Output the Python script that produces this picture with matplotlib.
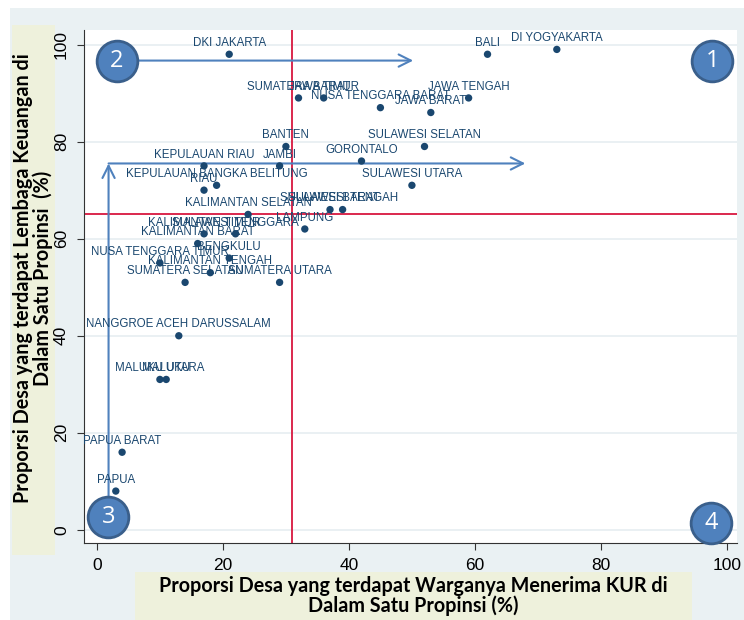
import numpy as np
import matplotlib.pyplot as plt
from matplotlib.patches import Rectangle

# province data
provinces = ["DKI JAKARTA", "BALI", "DI YOGYAKARTA", "SUMATERA BARAT", "JAWA TIMUR",
             "NUSA TENGGARA BARAT", "JAWA TENGAH", "JAWA BARAT", "BANTEN", "SULAWESI SELATAN",
             "KEPULAUAN RIAU", "JAMBI", "GORONTALO", "KEPULAUAN BANGKA BELITUNG", "RIAU",
             "SULAWESI UTARA", "KALIMANTAN SELATAN", "SULAWESI BARAT", "SULAWESI TENGAH",
             "LAMPUNG", "KALIMANTAN TIMUR", "SULAWESI TENGGARA", "KALIMANTAN BARAT",
             "BENGKULU", "NUSA TENGGARA TIMUR", "KALIMANTAN TENGAH", "SUMATERA SELATAN",
             "SUMATERA UTARA", "NANGGROE ACEH DARUSSALAM", "MALUKU UTARA", "MALUKU",
             "PAPUA BARAT", "PAPUA"]
kur = [21, 62, 73, 32, 36, 45, 59, 53, 30, 52, 17, 29, 42, 19, 17, 50, 24, 37, 39,
       33, 17, 22, 16, 21, 10, 18, 14, 29, 13, 10, 11, 4, 3]
lembaga = [98, 98, 99, 89, 89, 87, 89, 86, 79, 79, 75, 75, 76, 71, 70, 71, 65, 66, 66,
           62, 61, 61, 59, 56, 55, 53, 51, 51, 40, 31, 31, 16, 8]

x_mean = 31
y_mean = 65
ticks = [0, 20, 40, 60, 80, 100]

quad_nums = ["1", "2", "3", "4"]
quad_x = [97.7, 3.2, 1.8, 97.5]
quad_y = [96.7, 96.7, 2.7, 1.4]

xlabel = "Proporsi Desa yang terdapat Warganya Menerima KUR di\nDalam Satu Propinsi (%)"
ylabel = "Proporsi Desa yang terdapat Lembaga Keuangan di\nDalam Satu Propinsi  (%)"

navy = "#1a476f"
blue = "#4f81bd"
red = "#d8173f"

fig = plt.figure(figsize=(7.44, 6.2), dpi=100)
fig.patch.set_facecolor("white")
fig.patches.append(Rectangle((10 / 744, 0), 734 / 744, 1 - 8 / 620, transform=fig.transFigure,
                             facecolor="#eaf1f3", edgecolor="none", zorder=-10))
# beige label boxes
fig.patches.append(Rectangle((12 / 744, 1 - 555 / 620), 43 / 744, 530 / 620, transform=fig.transFigure,
                             facecolor="#eef1dc", edgecolor="none", zorder=-5))
fig.patches.append(Rectangle((135 / 744, 0), 557 / 744, 48 / 620, transform=fig.transFigure,
                             facecolor="#eef1dc", edgecolor="none", zorder=-5))

ax = fig.add_axes([84.3 / 744, 1 - 543 / 620, (737 - 84.3) / 744, (543 - 30) / 620])
ax.set_facecolor("white")
ax.set_xlim(-2, 101.6)
ax.set_ylim(-2.7, 103)

for t in ticks:
    ax.axhline(t, color="#e6eef1", lw=1.2, zorder=0)

ax.axvline(x_mean, color=red, lw=1.3, zorder=1)
ax.axhline(y_mean, color=red, lw=1.3, zorder=1)

ax.scatter(kur, lembaga, s=28, color=navy, zorder=4, edgecolor="none")
for name, xv, yv in zip(provinces, kur, lembaga):
    ax.annotate(name, (xv, yv), xytext=(0, 6), textcoords="offset points", ha="center",
                va="baseline", fontsize=8.3, color=navy, family="Liberation Sans", zorder=5)

# arrows
arr = dict(arrowstyle="->", color=blue, lw=1.5, mutation_scale=22, shrinkA=0, shrinkB=0)
ax.annotate("", xy=(50.2, 96.7), xytext=(5.5, 96.7), arrowprops=arr, zorder=3)
ax.annotate("", xy=(68, 75.5), xytext=(1.85, 75.5), arrowprops=arr, zorder=3)
ax.annotate("", xy=(1.85, 75.5), xytext=(1.85, 3), arrowprops=arr, zorder=3)

ax.scatter(quad_x, quad_y, s=860, color=blue, edgecolor="#3a5f8b", linewidth=2,
           zorder=6, clip_on=False)
for n, xv, yv in zip(quad_nums, quad_x, quad_y):
    ax.text(xv, yv, n, ha="center", va="center", color="white", fontsize=17,
            family="Open Sans", zorder=7)

ax.set_xticks(ticks)
ax.set_yticks(ticks)
ax.tick_params(labelsize=12.5, length=5, color="#333333", pad=6)
for lab in ax.get_yticklabels():
    lab.set_rotation(90)
    lab.set_va("center")
for lab in ax.get_xticklabels() + ax.get_yticklabels():
    lab.set_family("Liberation Sans")
for side in ["top", "right"]:
    ax.spines[side].set_visible(False)
for side in ["left", "bottom"]:
    ax.spines[side].set_color("#333333")

fig.text(413 / 744, 1 - 596 / 620, xlabel, ha="center", va="center", fontsize=14.2,
         fontweight="bold", family="Lato", linespacing=1.0)
fig.text(33 / 744, 1 - 278 / 620, ylabel, ha="center", va="center", fontsize=14.2,
         fontweight="bold", family="Lato", rotation=90, linespacing=1.0)

fig.savefig("out.png", dpi=100)
